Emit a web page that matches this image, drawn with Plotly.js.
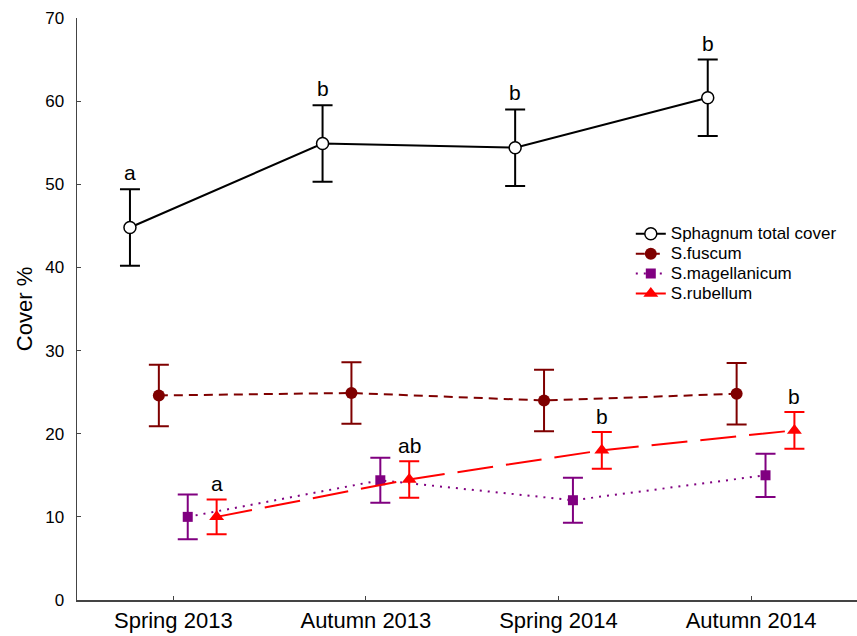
<!DOCTYPE html>
<html>
<head>
<meta charset="utf-8">
<script src="https://cdn.plot.ly/plotly-3.0.1.min.js"></script>
<style>html,body{margin:0;padding:0;background:#fff;}#chart{width:857px;height:636px;}</style>
</head>
<body>
<div id="chart"></div>
<script>
// ---- data ----
var categories = ["Spring 2013", "Autumn 2013", "Spring 2014", "Autumn 2014"];
var seriesNames = ["Sphagnum total cover", "S.fuscum", "S.magellanicum", "S.rubellum"];
var totalCover = [44.8, 54.9, 54.4, 60.4];
var totalErr = [4.6, 4.6, 4.6, 4.6];
var fuscum = [24.6, 24.9, 24.0, 24.8];
var fuscumErr = [3.7, 3.7, 3.7, 3.7];
var magellanicum = [10.0, 14.4, 12.0, 15.0];
var magellanicumErr = [2.7, 2.7, 2.7, 2.6];
var rubellum = [10.0, 14.5, 18.0, 20.4];
var rubellumErr = [2.1, 2.2, 2.2, 2.2];
var totalLetters = ["a", "b", "b", "b"];
var rubellumLetters = ["a", "ab", "b", "b"];
var yTicks = [0, 10, 20, 30, 40, 50, 60, 70];

// ---- styling ----
var offsets = [-0.225, -0.075, 0.075, 0.225];
function xs(k){ return categories.map(function(c,i){ return i + offsets[k]; }); }
var colors = ["#000000", "#7f0000", "#800080", "#ff0000"];
var FONT = "Liberation Sans, Arial, sans-serif";

function legName(n){ return '<span style="font-size:17px">' + n + '</span>'; }

var traces = [
  {x: xs(0), y: totalCover, name: legName(seriesNames[0]), type: "scatter", mode: "lines+markers",
   line: {color: colors[0], width: 2},
   marker: {symbol: "circle", size: 12, color: "#ffffff", line: {color: colors[0], width: 1.5}},
   error_y: {type: "data", array: totalErr, visible: true, color: colors[0], thickness: 2, width: 10}},
  {x: xs(1), y: fuscum, name: legName(seriesNames[1]), type: "scatter", mode: "lines+markers",
   line: {color: colors[1], width: 2, dash: "9px,6px"},
   marker: {symbol: "circle", size: 12, color: colors[1]},
   error_y: {type: "data", array: fuscumErr, visible: true, color: colors[1], thickness: 2, width: 10}},
  {x: xs(2), y: magellanicum, name: legName(seriesNames[2]), type: "scatter", mode: "lines+markers",
   line: {color: colors[2], width: 2, dash: "2px,6px"},
   marker: {symbol: "square", size: 10, color: colors[2]},
   error_y: {type: "data", array: magellanicumErr, visible: true, color: colors[2], thickness: 2, width: 10}},
  {x: xs(3), y: rubellum, name: legName(seriesNames[3]), type: "scatter", mode: "lines+markers",
   line: {color: colors[3], width: 2, dash: "36px,13px"},
   marker: {symbol: "triangle-up", size: 13, color: colors[3]},
   error_y: {type: "data", array: rubellumErr, visible: true, color: colors[3], thickness: 2, width: 10}}
];

var annotations = [];
totalLetters.forEach(function(t, i){
  annotations.push({x: i + offsets[0], y: totalCover[i] + totalErr[i], xref: "x", yref: "y", text: t,
    showarrow: false, yanchor: "bottom", yshift: 3, font: {family: FONT, size: 21, color: "#000"}});
});
rubellumLetters.forEach(function(t, i){
  annotations.push({x: i + offsets[3], y: rubellum[i] + rubellumErr[i], xref: "x", yref: "y", text: t,
    showarrow: false, yanchor: "bottom", yshift: 2, font: {family: FONT, size: 21, color: "#000"}});
});

var layout = {
  width: 857, height: 636,
  margin: {l: 77, r: 0, t: 18, b: 35.5, pad: 0},
  paper_bgcolor: "#ffffff", plot_bgcolor: "#ffffff",
  font: {family: FONT, color: "#000"},
  showlegend: true,
  legend: {x: 0.71, y: 0.655, xanchor: "left", yanchor: "top", bgcolor: "rgba(0,0,0,0)",
           font: {family: FONT, size: 13, color: "#000"}, tracegroupgap: 0},
  xaxis: {range: [-0.5, 3.55], tickmode: "array", tickvals: categories.map(function(c,i){return i;}),
          ticktext: categories, showgrid: false, zeroline: false, showline: true, linecolor: "#444",
          linewidth: 1.5, ticks: "inside", ticklen: 4, tickcolor: "#444",
          tickfont: {family: FONT, size: 22, color: "#000"}},
  yaxis: {range: [0, 70], tickmode: "array", tickvals: yTicks, showgrid: false, zeroline: false,
          showline: true, linecolor: "#444", linewidth: 1.5, ticks: "inside", ticklen: 4, tickcolor: "#444",
          ticklabelstandoff: 8,
          tickfont: {family: FONT, size: 17, color: "#000"},
          title: {text: "Cover %", font: {family: FONT, size: 22, color: "#000"}, standoff: 6}},
  annotations: annotations
};

Plotly.newPlot("chart", traces, layout, {displayModeBar: false, staticPlot: true});
</script>
</body>
</html>
